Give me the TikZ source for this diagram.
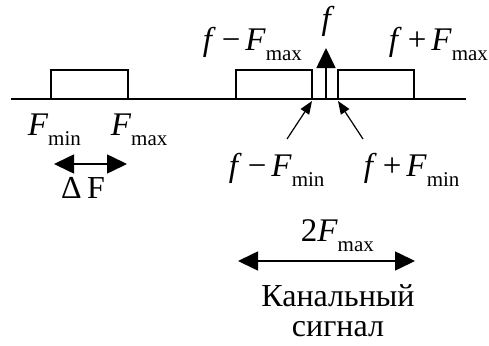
\documentclass[tikz,border=0pt]{standalone}
\usepackage{fontspec}
\setmainfont{Liberation Serif}
\usetikzlibrary{arrows.meta}
\newcommand{\lab}[2]{\textit{#1}\raisebox{-10pt}{\fontsize{21}{21}\selectfont #2}}
\newcommand{\mn}{\hspace{6pt}−\hspace{5pt}}
\newcommand{\pl}{\hspace{6pt}+\hspace{5pt}}
\begin{document}
\begin{tikzpicture}[x=1pt,y=-1pt,
  line width=1.6pt,
  bigtip/.style={-{Triangle[length=20pt,width=19pt]}},
  bigboth/.style={{Triangle[length=20pt,width=19pt]}-{Triangle[length=20pt,width=19pt]}},
  smalltip/.style={-{Stealth[length=13pt,width=10pt,inset=0pt]}},
  mlab/.style={font=\fontsize{33}{35}\selectfont, inner sep=0pt},
  tlab/.style={font=\fontsize{32}{34}\selectfont, inner sep=0pt}]
\useasboundingbox (0,0) rectangle (489,345);
% axis
\coordinate (a0) at (11,99);
\coordinate (a1) at (466,99);
\draw (a0) -- (a1);
% boxes
\draw (51,99) rectangle (128,70);
\draw (236,99) rectangle (312,70);
\draw (338,99) rectangle (414,70);
% carrier
\coordinate (cb) at (326,99);
\coordinate (ct) at (326,48);
\draw[bigtip] (cb) -- (ct);
\node[mlab, anchor=base] (fc) at (328,30) {\textit{f}};
% top labels
\node[mlab, anchor=base west] (fmm) at (202,50) {\textit{f}\mn\lab{F}{max}};
\node[mlab, anchor=base west] (fpm) at (388,50) {\textit{f}\pl\lab{F}{max}};
% lower labels
\node[mlab, anchor=base west] (fmin) at (27,135) {\lab{F}{min}};
\node[mlab, anchor=base west] (fmax) at (110,135) {\lab{F}{max}};
\coordinate (d0) at (54,164);
\coordinate (d1) at (127,164);
\draw[bigboth] (d0) -- (d1);
\node[tlab, anchor=base] (dF) at (83,198) {Δ\,F};
% slanted arrows
\coordinate (s0) at (287,139);
\coordinate (s0e) at (312,101);
\coordinate (s1) at (363,139);
\coordinate (s1e) at (338,101);
\draw[smalltip, line width=1.2pt] (s0) -- (s0e);
\draw[smalltip, line width=1.2pt] (s1) -- (s1e);
\node[mlab, anchor=base west] (fmn) at (228,176) {\textit{f}\mn\lab{F}{min}};
\node[mlab, anchor=base west] (fpn) at (363,176) {\textit{f}\pl\lab{F}{min}};
% bandwidth
\node[mlab, anchor=base west] (tw) at (300,241) {2\lab{F}{max}};
\coordinate (b0) at (238,261);
\coordinate (b1) at (415,261);
\draw[bigboth] (b0) -- (b1);
\node[tlab, anchor=base] (k1) at (338,306) {Канальный};
\node[tlab, anchor=base] (k2) at (338,336) {сигнал};
\end{tikzpicture}
\end{document}
